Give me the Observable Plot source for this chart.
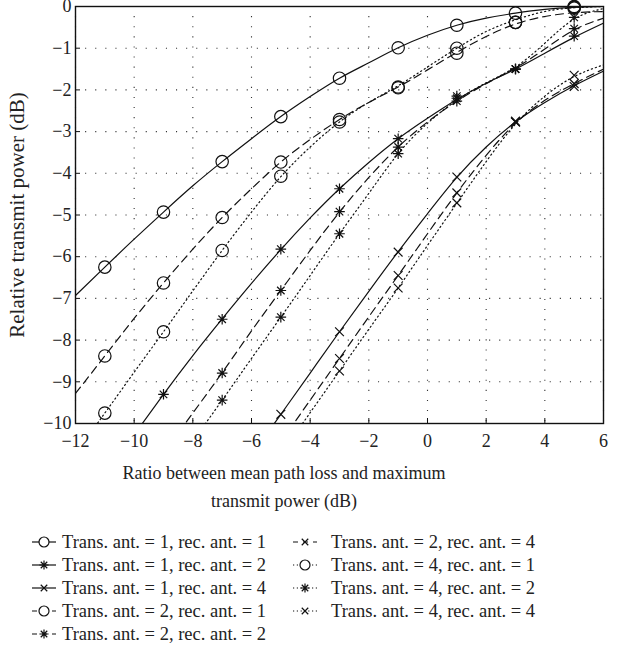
<!DOCTYPE html>
<html><head><meta charset="utf-8">
<script src="https://cdn.jsdelivr.net/npm/d3@7"></script>
<script src="https://cdn.jsdelivr.net/npm/@observablehq/plot@0.6"></script>
<style>
body{margin:0;background:#fff;font-family:"Liberation Serif","DejaVu Serif",serif;color:#222}
#wrap{position:relative;width:631px;height:667px;overflow:hidden}
#chart{position:absolute;left:0;top:0}
#xlabel{position:absolute;left:0;width:568px;top:459px;text-align:center;font-size:18px;line-height:28px}
.leg{position:absolute;height:24px;display:flex;align-items:center;font-size:18.5px;white-space:nowrap}
.leg span{position:absolute;white-space:nowrap}
</style></head><body>
<div id="wrap"><div id="chart"></div>
<div id="xlabel">Ratio between mean path loss and maximum<br>transmit power (dB)</div>
<div id="legend"></div></div>
<script>
// ---- data ----
const xTicks = [-12, -10, -8, -6, -4, -2, 0, 2, 4, 6];
const yTicks = [0, -1, -2, -3, -4, -5, -6, -7, -8, -9, -10];
const yLabel = "Relative transmit power (dB)";

const seriesNames = ["t1r1", "t1r2", "t1r4", "t2r1", "t2r2", "t2r4", "t4r1", "t4r2", "t4r4"];
const seriesLabels = [
  "Trans. ant. = 1, rec. ant. = 1",
  "Trans. ant. = 1, rec. ant. = 2",
  "Trans. ant. = 1, rec. ant. = 4",
  "Trans. ant. = 2, rec. ant. = 1",
  "Trans. ant. = 2, rec. ant. = 2",
  "Trans. ant. = 2, rec. ant. = 4",
  "Trans. ant. = 4, rec. ant. = 1",
  "Trans. ant. = 4, rec. ant. = 2",
  "Trans. ant. = 4, rec. ant. = 4"
];
const seriesTrans = [1, 1, 1, 2, 2, 2, 4, 4, 4];
const seriesRec = [1, 2, 4, 1, 2, 4, 1, 2, 4];

// analytic curves (read every 1 dB)
const curveX = [-12, -11, -10, -9, -8, -7, -6, -5, -4, -3, -2, -1, 0, 1, 2, 3, 4, 5, 6];
const curve_t1r1 = [-6.93, -6.25, -5.58, -4.93, -4.3, -3.72, -3.17, -2.64, -2.16, -1.72, -1.35, -0.99, -0.69, -0.45, -0.28, -0.16, -0.07, -0.02, 0];
const curve_t1r2 = [null, null, -10.27, -9.3, -8.37, -7.49, -6.64, -5.83, -5.07, -4.37, -3.74, -3.17, -2.68, -2.23, -1.84, -1.5, -1.12, -0.74, -0.4];
const curve_t1r4 = [null, null, null, null, null, null, -10.77, -9.78, -8.79, -7.8, -6.83, -5.88, -4.97, -4.1, -3.37, -2.77, -2.3, -1.9, -1.55];
const curve_t2r1 = [-9.28, -8.38, -7.48, -6.63, -5.82, -5.06, -4.37, -3.73, -3.19, -2.71, -2.3, -1.93, -1.52, -1.1, -0.72, -0.42, -0.24, -0.15, -0.12];
const curve_t2r2 = [null, null, null, -10.72, -9.75, -8.78, -7.78, -6.81, -5.85, -4.93, -4.1, -3.37, -2.77, -2.27, -1.85, -1.47, -1.02, -0.56, -0.28];
const curve_t2r4 = [null, null, null, null, null, null, null, -10.44, -9.44, -8.44, -7.44, -6.45, -5.45, -4.47, -3.57, -2.8, -2.25, -1.85, -1.5];
const curve_t4r1 = [-10.72, -9.75, -8.77, -7.8, -6.82, -5.85, -4.93, -4.08, -3.37, -2.77, -2.3, -1.9, -1.45, -1.0, -0.6, -0.32, -0.12, -0.03, 0];
const curve_t4r2 = [null, null, null, null, -10.42, -9.44, -8.44, -7.45, -6.45, -5.45, -4.48, -3.53, -2.8, -2.25, -1.83, -1.45, -0.88, -0.3, -0.05];
const curve_t4r4 = [null, null, null, null, null, null, null, -10.74, -9.74, -8.74, -7.74, -6.75, -5.73, -4.72, -3.72, -2.82, -2.15, -1.68, -1.4];

// simulation markers (every 2 dB)
const markerX = [-11, -9, -7, -5, -3, -1, 1, 3, 5];
const mark_t1r1 = [-6.25, -4.93, -3.72, -2.64, -1.72, -0.99, -0.45, -0.16, -0.02];
const mark_t1r2 = [null, -9.3, -7.5, -5.82, -4.37, -3.17, -2.2, -1.5, -0.71];
const mark_t1r4 = [null, null, null, -9.78, -7.8, -5.89, -4.09, -2.77, -1.92];
const mark_t2r1 = [-8.38, -6.63, -5.06, -3.73, -2.71, -1.93, -1.12, -0.38, -0.04];
const mark_t2r2 = [null, null, -8.79, -6.81, -4.92, -3.37, -2.27, -1.5, -0.53];
const mark_t2r4 = [null, null, null, null, -8.44, -6.45, -4.47, -2.75, -1.85];
const mark_t4r1 = [-9.75, -7.8, -5.85, -4.07, -2.77, -1.95, -1.0, -0.38, 0];
const mark_t4r2 = [null, null, -9.44, -7.45, -5.45, -3.53, -2.15, -1.5, -0.26];
const mark_t4r4 = [null, null, null, null, -8.74, -6.75, -4.71, -2.77, -1.65];

const curves = [curve_t1r1, curve_t1r2, curve_t1r4, curve_t2r1, curve_t2r2, curve_t2r4, curve_t4r1, curve_t4r2, curve_t4r4];
const marks = [mark_t1r1, mark_t1r2, mark_t1r4, mark_t2r1, mark_t2r2, mark_t2r4, mark_t4r1, mark_t4r2, mark_t4r4];

// ---- styles ----
const dashByTrans = {1: null, 2: "8,5", 4: "1.2,3"};
const asterisk8 = {draw(ctx, size) {
  const r = Math.sqrt(size / Math.PI), d = r * Math.SQRT1_2;
  ctx.moveTo(-r, 0); ctx.lineTo(r, 0); ctx.moveTo(0, -r); ctx.lineTo(0, r);
  ctx.moveTo(-d, -d); ctx.lineTo(d, d); ctx.moveTo(-d, d); ctx.lineTo(d, -d);
}};
const times = {draw(ctx, size) {
  const d = Math.sqrt(size / Math.PI) * Math.SQRT1_2;
  ctx.moveTo(-d, -d); ctx.lineTo(d, d); ctx.moveTo(-d, d); ctx.lineTo(d, -d);
}};
const circle = {draw(ctx, size) {
  const r = Math.sqrt(size / Math.PI);
  ctx.moveTo(r, 0); ctx.arc(0, 0, r, 0, 2 * Math.PI);
}};
const symbolByRec = {1: circle, 2: asterisk8, 4: times};
const rByRec = {1: 6.2, 2: 5.3, 4: 6.2};

// ---- build marks ----
const plotMarks = [
  Plot.gridX(xTicks, {stroke: "#333", strokeOpacity: 1, strokeWidth: 1.1, strokeDasharray: "1.1,9"}),
  Plot.gridY(yTicks, {stroke: "#333", strokeOpacity: 1, strokeWidth: 1.1, strokeDasharray: "1.1,9"}),
  Plot.axisX(xTicks, {tickSize: 0, tickPadding: 11, label: null}),
  Plot.axisX(xTicks, {tickSize: 5, dy: -5, tickFormat: () => "", label: null, stroke: "#111"}),
  Plot.axisY(yTicks, {tickSize: 0, tickPadding: 4, label: null}),
  Plot.axisY(yTicks, {tickSize: 5, dx: 5, tickFormat: () => "", label: null, stroke: "#111"}),
  Plot.text([yLabel], {text: d => d, frameAnchor: "left", textAnchor: "middle", lineAnchor: "middle",
    rotate: -90, dx: -58, fontSize: 21, fill: "#222"})
];
seriesNames.forEach((name, i) => {
  const lineRows = curveX.map((x, j) => ({x, y: curves[i][j]}));
  const dotRows = markerX.map((x, j) => ({x, y: marks[i][j]})).filter(d => d.y != null);
  plotMarks.push(Plot.line(lineRows, {x: "x", y: "y", curve: "natural", stroke: "#111", strokeWidth: 1.2,
    strokeDasharray: dashByTrans[seriesTrans[i]], clip: true}));
  plotMarks.push(Plot.dot(dotRows, {x: "x", y: "y", symbol: symbolByRec[seriesRec[i]], r: rByRec[seriesRec[i]],
    stroke: "#111", fill: "none", strokeWidth: 1.2}));
});
plotMarks.push(Plot.frame({stroke: "#111", strokeWidth: 1.4}));

const chart = Plot.plot({
  width: 631, height: 455,
  marginLeft: 75, marginRight: 28, marginTop: 6, marginBottom: 32,
  x: {domain: [-12, 6], axis: null},
  y: {domain: [-10, 0], axis: null},
  style: {fontFamily: "'Liberation Serif', serif", fontSize: "18px", color: "#222", background: "white", overflow: "visible"},
  marks: plotMarks
});
document.getElementById("chart").appendChild(chart);

// ---- legend ----
const legend = document.getElementById("legend");
const rowTops = [542, 565, 588, 611, 634];
const legendSymR = {1: 5, 2: 4.6, 4: 4.6};
const legendDash = {1: null, 2: "5,5", 4: "1.2,2.6"};
seriesNames.forEach((name, i) => {
  const col = i < 5 ? 0 : 1;
  const row = i < 5 ? i : i - 5;
  const symLeft = col === 0 ? 31 : 292;
  const textLeft = col === 0 ? 62 : 331;
  const div = document.createElement("div");
  div.className = "leg";
  div.style.left = symLeft + "px";
  div.style.top = (rowTops[row] - 12) + "px";
  div.style.width = "300px";
  const svg = d3.create("svg").attr("width", 26).attr("height", 24);
  const dash = legendDash[seriesTrans[i]];
  const ln = svg.append("line").attr("x1", 1).attr("x2", 25).attr("y1", 12).attr("y2", 12)
    .attr("stroke", "#111").attr("stroke-width", 1.2);
  if (dash) ln.attr("stroke-dasharray", dash);
  const r = legendSymR[seriesRec[i]];
  svg.append("path").attr("transform", "translate(13,12)")
    .attr("d", d3.symbol(symbolByRec[seriesRec[i]], Math.PI * r * r)())
    .attr("fill", seriesRec[i] === 1 ? "white" : "none").attr("stroke", "#111").attr("stroke-width", 1.2);
  div.appendChild(svg.node());
  const span = document.createElement("span");
  span.textContent = seriesLabels[i];
  span.style.left = (textLeft - symLeft) + "px";
  div.appendChild(span);
  legend.appendChild(div);
});
</script>
</body></html>
